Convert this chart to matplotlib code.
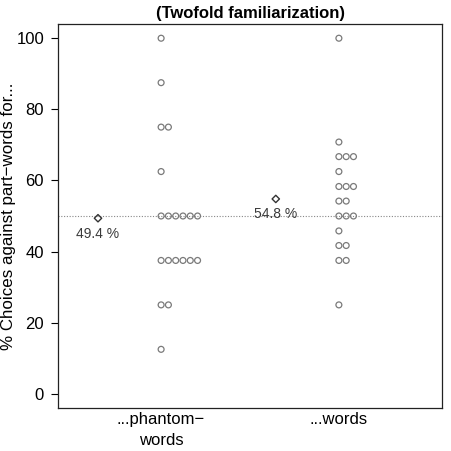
import matplotlib
matplotlib.use("Agg")
import matplotlib.pyplot as plt
from collections import Counter

plt.rcParams["font.family"] = ["Liberation Sans", "DejaVu Sans"]

# % choices per participant
phantom_words = [100, 87.5, 75, 75, 62.5, 50, 50, 50, 50, 50, 50,
                 37.5, 37.5, 37.5, 37.5, 37.5, 37.5, 25, 25, 12.5]
words = [100, 70.8, 66.7, 66.7, 66.7, 62.5, 58.3, 58.3, 58.3, 54.2, 54.2,
         50, 50, 50, 45.8, 41.7, 41.7, 37.5, 37.5, 25]
groups = [phantom_words, words]
group_labels = ["...phantom\u2212\nwords", "...words"]
chance = 50

fig = plt.figure(figsize=(4.51, 4.51), dpi=100)
ax = fig.add_axes([58 / 451, 43 / 451, 384 / 451, 384 / 451])

step = 0.041
for i, vals in enumerate(groups, start=1):
    seen = Counter()
    xs, ys = [], []
    for v in vals:
        xs.append(i + seen[v] * step)
        ys.append(v)
        seen[v] += 1
    ax.scatter(xs, ys, s=18, facecolors="none", edgecolors="#7a7a7a",
               linewidths=0.9, zorder=3)
    m = sum(vals) / len(vals)
    ax.scatter([i - 0.355], [m], marker="D", s=14, facecolors="none",
               edgecolors="#333333", linewidths=1.0, zorder=3)
    ax.annotate(f"{m:.1f} %", (i - 0.355, m), xytext=(0, -11),
                textcoords="offset points", ha="center", va="center",
                fontsize=10, color="#3a3a3a")

ax.axhline(chance, color="#888888", linestyle=(0, (1, 1.5)), linewidth=0.8,
           zorder=1)

ax.set_xlim(0.42, 2.58)
ax.set_ylim(-4, 104)
ax.set_xticks([1, 2])
ax.set_xticklabels(group_labels, fontsize=12, linespacing=1.45)
ax.tick_params(axis="x", length=0, pad=3)
ax.set_yticks([0, 20, 40, 60, 80, 100])
ax.tick_params(axis="y", labelsize=12, length=5, width=0.8, pad=5)
ax.set_ylabel("% Choices against part\u2212words for...", fontsize=12.2,
              va="center")
ax.yaxis.set_label_coords(-0.128, 0.5)
ax.set_title("(Twofold familiarization)", fontsize=12, fontweight="bold",
             pad=4)
for s in ax.spines.values():
    s.set_linewidth(0.9)
    s.set_color("#222222")

plt.savefig("out.png", dpi=100)
plt.close()
